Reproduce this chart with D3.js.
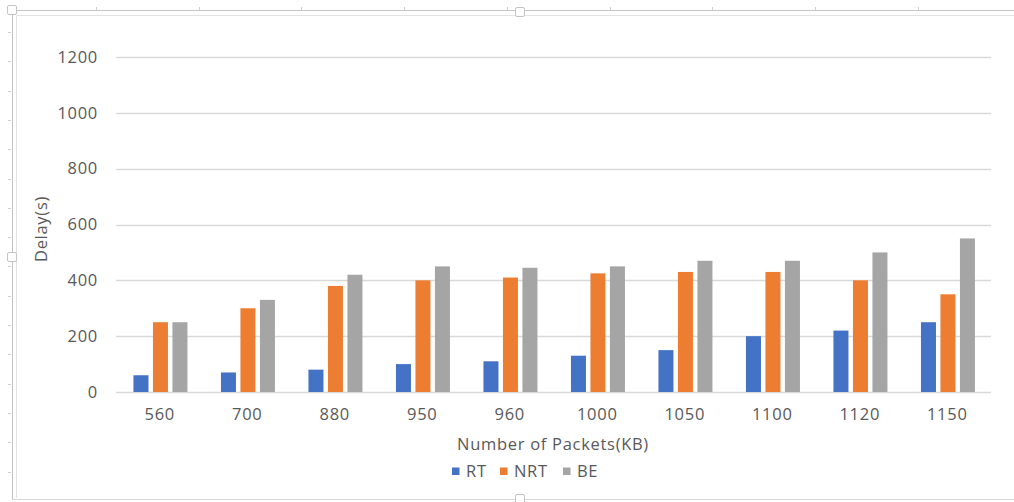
<!DOCTYPE html>
<html>
<head>
<meta charset="utf-8">
<script src="https://cdn.jsdelivr.net/npm/d3@7"></script>
<style>
  html, body { margin: 0; padding: 0; background: #fff; }
  svg { display: block; }
  text { font-family: "Open Sans", "Liberation Sans", sans-serif; fill: #595959; letter-spacing: 0.7px; }
</style>
</head>
<body>
<svg id="chart" width="1014" height="502"></svg>
<script>
// Packet size categories (KB)
const categories = ["560", "700", "880", "950", "960", "1000", "1050", "1100", "1120", "1150"];
// Delay per traffic class (s)
const seriesNames = ["RT", "NRT", "BE"];
const rtDelay  = [60, 70, 80, 100, 110, 130, 150, 200, 220, 250];
const nrtDelay = [250, 300, 380, 400, 410, 425, 430, 430, 400, 350];
const beDelay  = [250, 330, 420, 450, 445, 450, 470, 470, 500, 550];
const yTicks = [0, 200, 400, 600, 800, 1000, 1200];
const colors = ["#4472C4", "#ED7D31", "#A5A5A5"];

const FONT = 16.5;
const seriesValues = [rtDelay, nrtDelay, beDelay];
const rows = categories.map((c, i) => ({
  cat: c,
  vals: seriesNames.map((s, j) => ({ key: s, value: seriesValues[j][i] }))
}));

const svg = d3.select("#chart");

// ---- chart-area frame with ruler marks and resize handles ----
const frame = svg.append("g");
frame.append("path").attr("d", "M12.5,500 V10.5 H1014").attr("fill", "none").attr("stroke", "#c4c4c4");
frame.append("path").attr("d", "M16.5,498 V15.5 H1014").attr("fill", "none").attr("stroke", "#e2e2e2");
frame.append("line").attr("x1", 12).attr("x2", 1014).attr("y1", 499.5).attr("y2", 499.5).attr("stroke", "#d6d6d6");
d3.range(32, 500, 29.3).forEach(y => {
  frame.append("line").attr("x1", 8).attr("x2", 11).attr("y1", Math.round(y) + 0.5).attr("y2", Math.round(y) + 0.5).attr("stroke", "#cfcfcf");
});
d3.range(96, 1014, 102.7).forEach(x => {
  frame.append("line").attr("y1", 7).attr("y2", 10).attr("x1", Math.round(x) + 0.5).attr("x2", Math.round(x) + 0.5).attr("stroke", "#cfcfcf");
});
[[12, 10], [520, 12], [12, 257], [520, 499]].forEach(([cx, cy]) => {
  frame.append("rect").attr("x", cx - 4.5).attr("y", cy - 4.5).attr("width", 9).attr("height", 9)
    .attr("rx", 1.5).attr("fill", "#fff").attr("stroke", "#c4c4c4");
});

// ---- scales ----
const x0 = d3.scaleBand().domain(categories).range([116, 991]).paddingInner(0).paddingOuter(0);
const bw = x0.bandwidth();
const groupW = 54;
const x1 = d3.scaleBand().domain(seriesNames)
  .range([(bw - groupW) / 2 + 0.7, (bw + groupW) / 2 + 0.7]).paddingInner(0.23);
const y = d3.scaleLinear().domain([0, 1200]).range([392, 57]);

// ---- gridlines ----
svg.append("g").selectAll("line").data(yTicks).join("line")
  .attr("x1", 116).attr("x2", 991)
  .attr("y1", d => Math.round(y(d)) + 0.5).attr("y2", d => Math.round(y(d)) + 0.5)
  .attr("stroke", "#d9d9d9").attr("stroke-width", 1.3);

// ---- y axis labels ----
const yAxis = d3.axisLeft(y).tickValues(yTicks).tickFormat(d3.format("d")).tickSize(0).tickPadding(0);
const gy = svg.append("g").attr("transform", "translate(98,0)").call(yAxis);
gy.select(".domain").remove();
gy.selectAll("text").attr("font-size", FONT).style("fill", "#595959")
  .style("font-family", "'Open Sans', sans-serif");

// ---- x axis labels ----
const xAxis = d3.axisBottom(x0).tickSize(0).tickPadding(0);
const gx = svg.append("g").attr("transform", "translate(0,408)").call(xAxis);
gx.select(".domain").remove();
gx.selectAll("text").attr("font-size", FONT).attr("dy", "0.71em").style("fill", "#595959")
  .style("font-family", "'Open Sans', sans-serif");

// ---- axis titles ----
svg.append("text").attr("x", 553).attr("y", 450).attr("text-anchor", "middle")
  .attr("font-size", FONT).text("Number of Packets(KB)");
svg.append("text").attr("transform", "translate(47,229) rotate(-90)").attr("text-anchor", "middle")
  .attr("font-size", FONT).text("Delay(s)");

// ---- bars ----
svg.append("g").selectAll("g").data(rows).join("g")
  .attr("transform", d => `translate(${x0(d.cat)},0)`)
  .selectAll("rect").data(d => d.vals).join("rect")
  .attr("x", d => x1(d.key))
  .attr("width", x1.bandwidth())
  .attr("y", d => y(d.value))
  .attr("height", d => y(0) - y(d.value))
  .attr("fill", (d, i) => colors[i]);

// ---- legend ----
const legendX = [452, 500, 563];
const legend = svg.append("g").selectAll("g").data(seriesNames).join("g")
  .attr("transform", (d, i) => `translate(${legendX[i]},467.5)`);
legend.append("rect").attr("width", 7.5).attr("height", 7.5).attr("fill", (d, i) => colors[i]);
legend.append("text").attr("x", 14).attr("y", 9).attr("font-size", FONT).text(d => d);
</script>
</body>
</html>
